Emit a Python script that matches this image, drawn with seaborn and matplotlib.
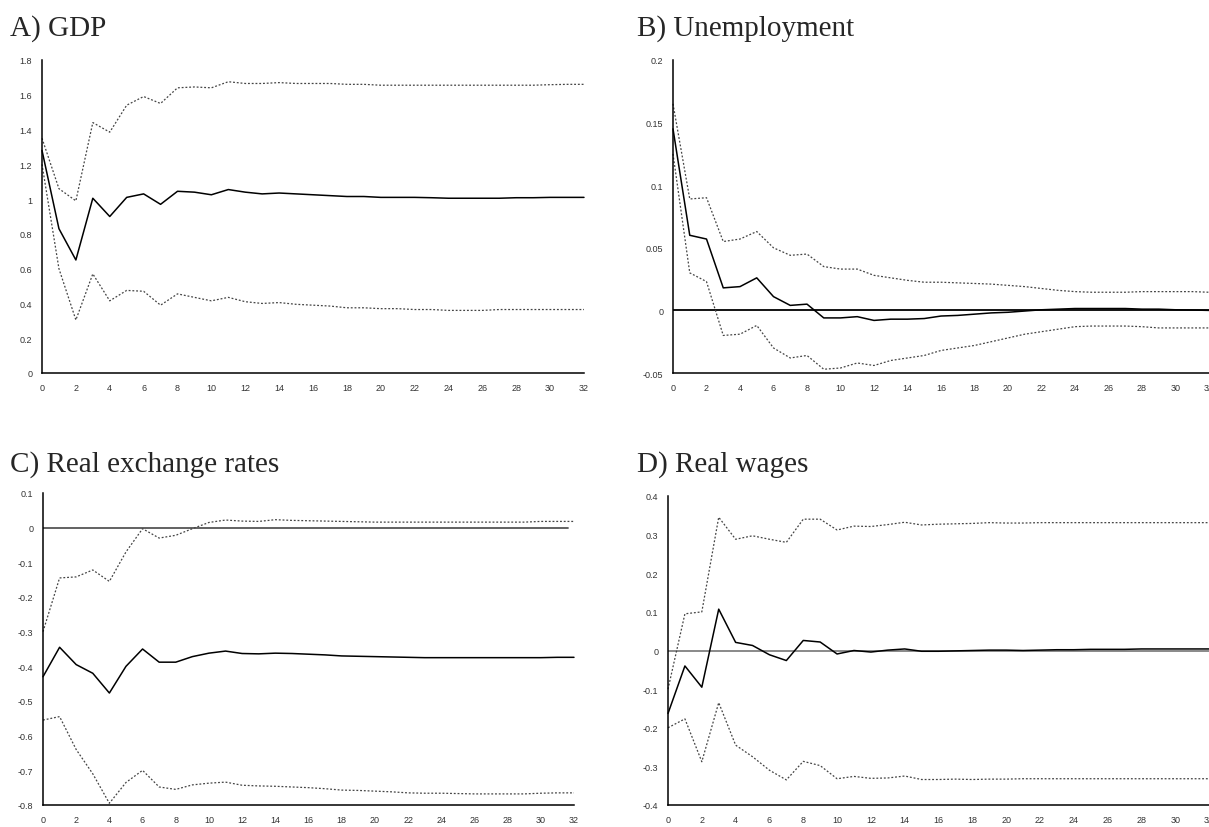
import numpy as np
import pandas as pd
import matplotlib
matplotlib.use('Agg')
import matplotlib.pyplot as plt
from matplotlib.ticker import FixedLocator, FuncFormatter
import seaborn as sns

horizon = list(range(33))

gdp_mid = [1.28, 0.83, 0.65, 1.005, 0.90, 1.01, 1.03, 0.97, 1.045, 1.04, 1.025, 1.055, 1.04,
           1.03, 1.035, 1.03, 1.025, 1.02, 1.015, 1.015, 1.01, 1.01, 1.01, 1.008, 1.005, 1.005,
           1.005, 1.005, 1.008, 1.008, 1.01, 1.01, 1.01]
gdp_hi = [1.35, 1.06, 0.99, 1.44, 1.385, 1.54, 1.59, 1.55, 1.64, 1.645, 1.64, 1.675, 1.665,
          1.665, 1.67, 1.665, 1.665, 1.665, 1.66, 1.66, 1.655, 1.655, 1.655, 1.655, 1.655, 1.655,
          1.655, 1.655, 1.655, 1.655, 1.658, 1.66, 1.66]
gdp_lo = [1.2, 0.6, 0.305, 0.57, 0.415, 0.475, 0.47, 0.39, 0.455, 0.435, 0.415, 0.435, 0.41,
          0.40, 0.405, 0.395, 0.39, 0.385, 0.375, 0.375, 0.37, 0.37, 0.365, 0.365, 0.36, 0.36,
          0.36, 0.365, 0.365, 0.365, 0.365, 0.365, 0.365]

unemp_mid = [0.145, 0.06, 0.057, 0.018, 0.019, 0.026, 0.011, 0.004, 0.005, -0.006, -0.006, -0.005,
             -0.008, -0.007, -0.007, -0.0065, -0.0045, -0.004, -0.003, -0.002, -0.0015, -0.0005,
             0.0005, 0.001, 0.0015, 0.0015, 0.0015, 0.0015, 0.001, 0.001, 0.0005, 0.0003, 0.0]
unemp_hi = [0.165, 0.089, 0.09, 0.055, 0.057, 0.063, 0.05, 0.044, 0.045, 0.035, 0.033, 0.033,
            0.028, 0.026, 0.024, 0.0225, 0.0225, 0.022, 0.0215, 0.021, 0.02, 0.019, 0.0175,
            0.016, 0.015, 0.0145, 0.0145, 0.0145, 0.015, 0.015, 0.015, 0.015, 0.0145]
unemp_lo = [0.125, 0.03, 0.023, -0.02, -0.019, -0.012, -0.03, -0.038, -0.036, -0.047, -0.046,
            -0.042, -0.044, -0.04, -0.038, -0.036, -0.032, -0.03, -0.028, -0.025, -0.022, -0.019,
            -0.017, -0.015, -0.013, -0.0125, -0.0125, -0.0125, -0.013, -0.014, -0.014, -0.014, -0.014]

rer_mid = [-0.43, -0.345, -0.395, -0.42, -0.477, -0.40, -0.35, -0.388, -0.388, -0.372, -0.362,
           -0.356, -0.363, -0.364, -0.362, -0.363, -0.365, -0.367, -0.37, -0.371, -0.372, -0.373,
           -0.374, -0.375, -0.375, -0.375, -0.375, -0.375, -0.375, -0.375, -0.375, -0.374, -0.374]
rer_hi = [-0.3, -0.145, -0.142, -0.122, -0.155, -0.07, -0.003, -0.03, -0.022, -0.003, 0.015,
          0.022, 0.019, 0.018, 0.023, 0.021, 0.02, 0.019, 0.018, 0.017, 0.016, 0.016, 0.016,
          0.016, 0.016, 0.016, 0.016, 0.016, 0.016, 0.016, 0.018, 0.018, 0.018]
rer_lo = [-0.555, -0.545, -0.64, -0.71, -0.795, -0.735, -0.70, -0.748, -0.755, -0.742, -0.737,
          -0.734, -0.743, -0.745, -0.746, -0.748, -0.75, -0.753, -0.757, -0.758, -0.76, -0.762,
          -0.765, -0.766, -0.766, -0.767, -0.768, -0.768, -0.768, -0.768, -0.766, -0.765, -0.765]

wage_mid = [-0.163, -0.04, -0.095, 0.107, 0.021, 0.013, -0.011, -0.026, 0.026, 0.022, -0.009,
            0.0, -0.004, 0.001, 0.004, -0.002, -0.002, -0.001, 0.0, 0.001, 0.001, 0.0, 0.001,
            0.002, 0.002, 0.003, 0.003, 0.003, 0.004, 0.004, 0.004, 0.004, 0.004]
wage_hi = [-0.1, 0.095, 0.1, 0.345, 0.288, 0.297, 0.288, 0.28, 0.34, 0.34, 0.312, 0.322, 0.321,
           0.326, 0.332, 0.325, 0.327, 0.328, 0.329, 0.331, 0.33, 0.33, 0.331, 0.331, 0.331,
           0.331, 0.331, 0.331, 0.331, 0.331, 0.331, 0.331, 0.331]
wage_lo = [-0.2, -0.177, -0.288, -0.135, -0.245, -0.275, -0.31, -0.335, -0.287, -0.298, -0.332,
           -0.326, -0.331, -0.33, -0.325, -0.334, -0.334, -0.333, -0.334, -0.333, -0.333, -0.332,
           -0.332, -0.332, -0.332, -0.332, -0.332, -0.332, -0.332, -0.332, -0.332, -0.332, -0.332]

titles = ['A) GDP', 'B) Unemployment', 'C) Real exchange rates', 'D) Real wages']
y_ticks = [
    [0, 0.2, 0.4, 0.6, 0.8, 1, 1.2, 1.4, 1.6, 1.8],
    [-0.05, 0, 0.05, 0.1, 0.15, 0.2],
    [-0.8, -0.7, -0.6, -0.5, -0.4, -0.3, -0.2, -0.1, 0, 0.1],
    [-0.4, -0.3, -0.2, -0.1, 0, 0.1, 0.2, 0.3, 0.4],
]
x_ticks = list(range(0, 33, 2))

panels = [
    (gdp_mid, gdp_hi, gdp_lo),
    (unemp_mid, unemp_hi, unemp_lo),
    (rer_mid, rer_hi, rer_lo),
    (wage_mid, wage_hi, wage_lo),
]

W, H = 1209, 828
# axes boxes in pixels: left, right, top, bottom
boxes = [(42, 584, 61, 374), (673, 1209, 61, 374), (43, 574, 494, 806), (668, 1209, 497, 806)]
title_pos = [(10, 36), (637, 36), (10, 472), (637, 472)]
zero_line = [None, ('black', 1.0), ('#555555', 31.65 / 32), ('#808080', 1.0)]

sns.set_style('white')
plt.rcParams['font.family'] = ['Liberation Sans', 'DejaVu Sans']

fig = plt.figure(figsize=(W / 100, H / 100), dpi=100)

dots = (0, (1.5, 1.5))

for i, (mid, hi, lo) in enumerate(panels):
    l, r, t, b = boxes[i]
    ax = fig.add_axes([l / W, 1 - b / H, (r - l) / W, (b - t) / H])
    df = pd.DataFrame({'h': horizon, 'mid': mid, 'hi': hi, 'lo': lo})

    if zero_line[i] is not None:
        col, xmax = zero_line[i]
        ax.axhline(0, xmin=0, xmax=xmax, color=col, lw=1.3, zorder=1)

    sns.lineplot(data=df, x='h', y='hi', ax=ax, color='#444444', lw=0.9, linestyle=dots, clip_on=False)
    sns.lineplot(data=df, x='h', y='lo', ax=ax, color='#444444', lw=0.9, linestyle=dots, clip_on=False)
    sns.lineplot(data=df, x='h', y='mid', ax=ax, color='black', lw=1.1, clip_on=False)

    ax.set_xlim(0, 32)
    ax.set_ylim(y_ticks[i][0], y_ticks[i][-1])
    ax.xaxis.set_major_locator(FixedLocator(x_ticks))
    ax.yaxis.set_major_locator(FixedLocator(y_ticks[i]))
    ax.yaxis.set_major_formatter(FuncFormatter(lambda v, p: f'{round(v, 3):g}'))
    ax.set_xlabel('')
    ax.set_ylabel('')
    sns.despine(ax=ax)
    for s in ['left', 'bottom']:
        ax.spines[s].set_color('black')
        ax.spines[s].set_linewidth(1.1)
    ax.tick_params(direction='inout', length=6, width=1, color='black',
                   labelsize=6.5, labelcolor='#333333', pad=4)
    ax.patch.set_alpha(0)

    fig.text(title_pos[i][0] / W, 1 - title_pos[i][1] / H, titles[i],
             fontsize=21, family=['Liberation Serif', 'DejaVu Serif'], va='baseline', ha='left')

fig.savefig('out.png', dpi=100)
